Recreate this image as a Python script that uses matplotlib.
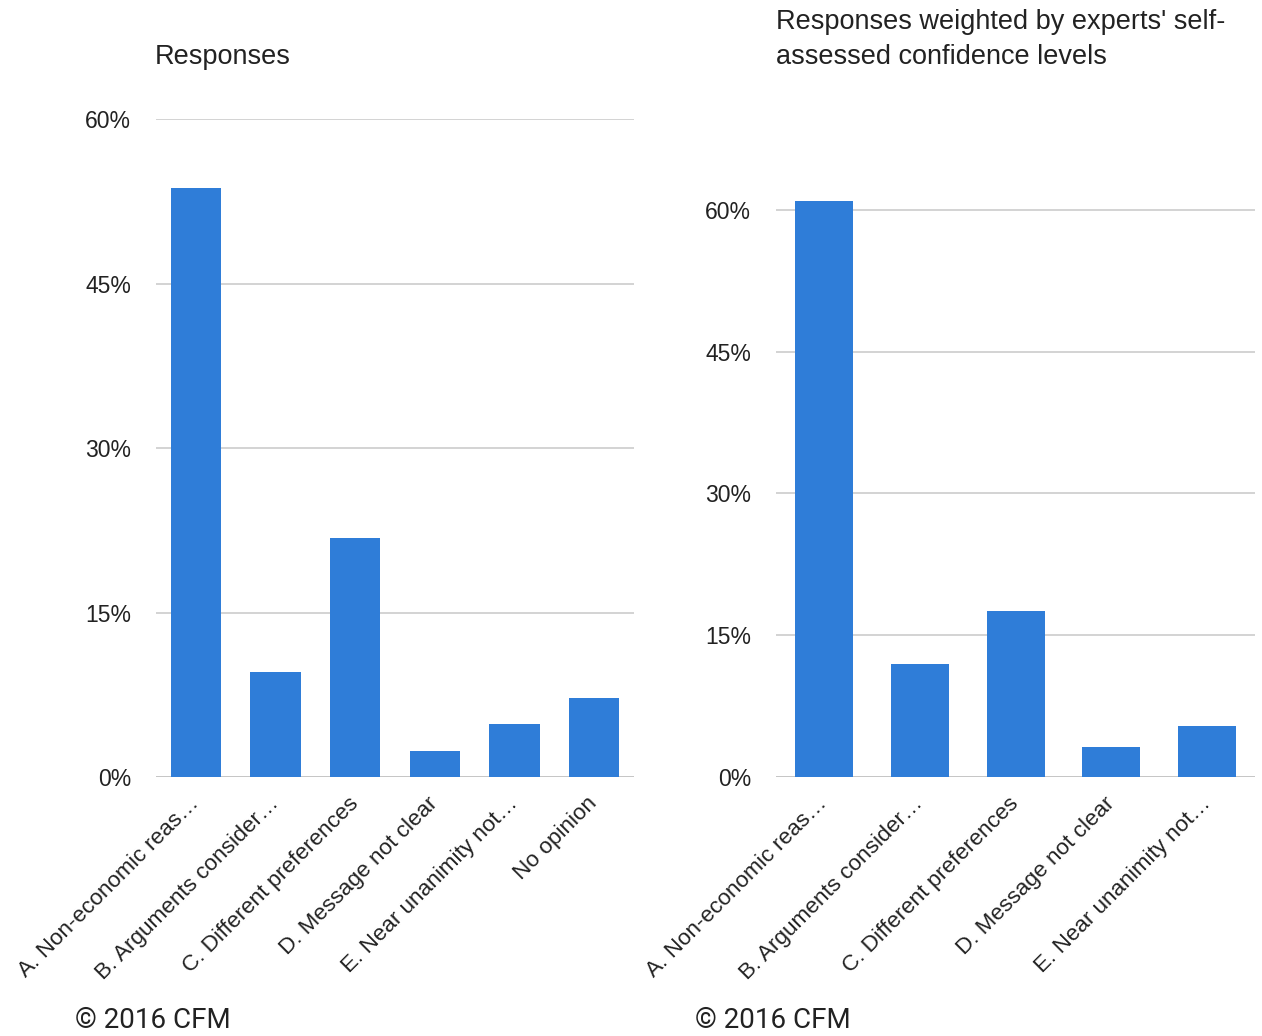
import matplotlib.pyplot as plt
import numpy as np

plt.rcParams['font.family'] = ['Liberation Sans', 'DejaVu Sans']

labels_left = ["A. Non-economic reas\u2026", "B. Arguments consider\u2026",
               "C. Different preferences", "D. Message not clear",
               "E. Near unanimity not\u2026", "No opinion"]
values_left = [53.7, 9.6, 21.8, 2.4, 4.8, 7.2]

labels_right = labels_left[:5]
values_right = [61.0, 12.0, 17.6, 3.2, 5.4]

ticks = [0, 15, 30, 45, 60]
tick_labels = ["0%", "15%", "30%", "45%", "60%"]

bar_color = '#2f7dd8'
text_color = '#222222'

fig = plt.figure(figsize=(12.62, 10.36), dpi=100)

def style_axis(ax, labels, values, width, ytop):
    x = np.arange(len(labels))
    ax.bar(x, values, width, color=bar_color, zorder=3)
    ax.set_xlim(-0.5, len(labels) - 0.5)
    ax.set_ylim(0, ytop)
    ax.set_yticks(ticks)
    ax.set_yticklabels(tick_labels)
    for t in ticks:
        ax.axhline(t, color='#cccccc' if t else '#bbbbbb', lw=1.2, zorder=1)
    for s in ax.spines.values():
        s.set_visible(False)
    ax.tick_params(axis='y', length=0, pad=18, labelsize=16.5, labelcolor=text_color)
    ax.tick_params(axis='x', length=0, pad=17)
    ax.set_xticks(x)
    ax.set_xticklabels(labels, rotation=45, ha='right', va='center',
                       rotation_mode='anchor', fontsize=16.2, color=text_color)

ax1 = fig.add_axes([0.1236, 0.25, 0.3788, 0.6351])
style_axis(ax1, labels_left, values_left, 0.63, 60)
fig.text(155 / 1262, 1 - 57 / 1036, "Responses", fontsize=19.5,
         color=text_color, va='center', ha='left')

ax2 = fig.add_axes([0.6149, 0.25, 0.3796, 0.5747])
style_axis(ax2, labels_right, values_right, 0.605, 63)
fig.text(776 / 1262, 1 - 22 / 1036, "Responses weighted by experts' self-",
         fontsize=19.5, color=text_color, va='center', ha='left')
fig.text(776 / 1262, 1 - 57 / 1036, "assessed confidence levels",
         fontsize=19.5, color=text_color, va='center', ha='left')

for xpos in (75, 695):
    fig.text(xpos / 1262, 1 - 1021 / 1036, "\u00a9 2016 CFM", fontsize=20,
             family=['Roboto', 'DejaVu Sans'], color=text_color,
             va='center', ha='left')

fig.savefig('out.png', dpi=100)
